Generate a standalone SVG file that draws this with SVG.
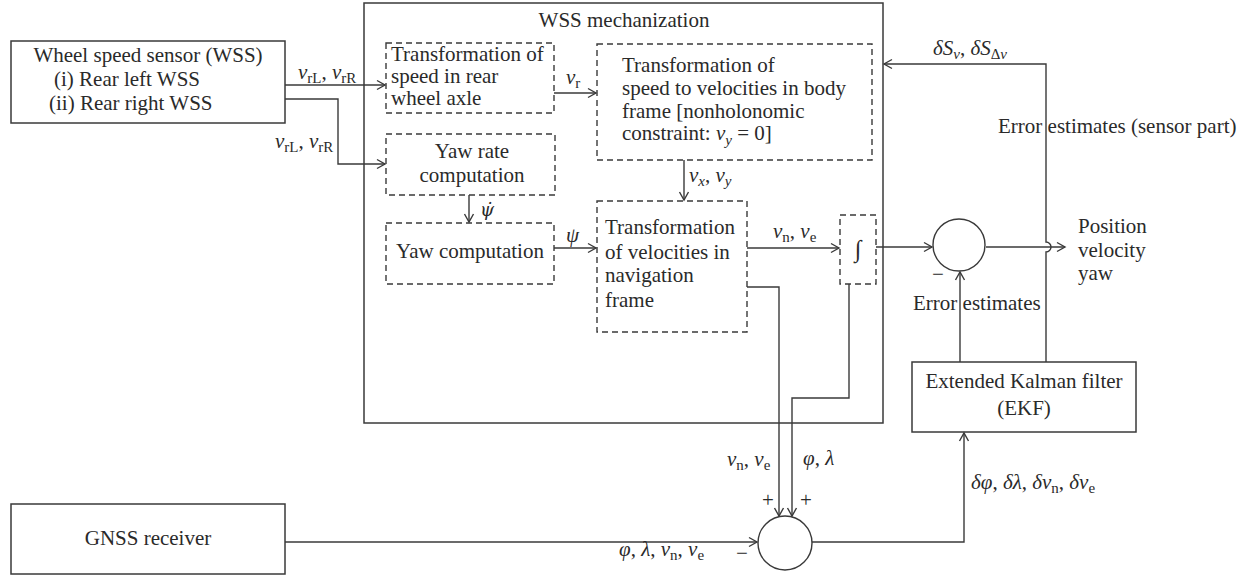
<svg xmlns="http://www.w3.org/2000/svg" width="1255" height="578" viewBox="0 0 1255 578">
<style>
text{font-family:"Liberation Serif","DejaVu Serif",serif;font-size:21px;fill:#2a2a2a}
.m{text-anchor:middle}
.it{font-style:italic}
.sub{font-size:15px}
.box{fill:#fff;stroke:#3a3a3a;stroke-width:1.5}
.dash{fill:none;stroke:#3a3a3a;stroke-width:1.4;stroke-dasharray:6 4}
.c{fill:none;stroke:#3a3a3a;stroke-width:1.4}
.ar{marker-end:url(#arr)}
</style>
<defs>
<marker id="arr" markerUnits="userSpaceOnUse" markerWidth="12" markerHeight="12" refX="10" refY="6" orient="auto">
<path d="M2,1.5 L10,6 L2,10.5" fill="none" stroke="#3a3a3a" stroke-width="1.4"/>
</marker>
</defs>

<g id="mech">
<rect class="box" x="364" y="3" width="519" height="420" fill="none"/>
<text class="m" x="624" y="27">WSS mechanization</text>
</g>

<g id="wss">
<rect class="box" x="11" y="41" width="274" height="82"/>
<text class="m" x="148" y="62">Wheel speed sensor (WSS)</text>
<text x="54" y="86">(i) Rear left WSS</text>
<text x="49" y="110">(ii) Rear right WSS</text>
</g>

<g id="speedAxle">
<rect class="dash" x="386" y="43" width="168" height="70"/>
<text x="391" y="61">Transformation of</text>
<text x="391" y="83">speed in rear</text>
<text x="391" y="105">wheel axle</text>
</g>

<g id="yawRate">
<rect class="dash" x="386" y="134" width="169" height="61"/>
<text class="m" x="472" y="158">Yaw rate</text>
<text class="m" x="472" y="182">computation</text>
</g>

<g id="bodyFrame">
<rect class="dash" x="597" y="44" width="275" height="116"/>
<text x="622" y="72">Transformation of</text>
<text x="622" y="95">speed to velocities in body</text>
<text x="622" y="118">frame [nonholonomic</text>
<text x="622" y="140">constraint: <tspan class="it">ν</tspan><tspan class="sub it" dy="5">y</tspan><tspan dy="-5"> = 0]</tspan></text>
</g>

<g id="yaw">
<rect class="dash" x="386" y="223" width="168" height="61"/>
<text class="m" x="470" y="258">Yaw computation</text>
</g>

<g id="navFrame">
<rect class="dash" x="597" y="201" width="150" height="131"/>
<text x="605" y="234">Transformation</text>
<text x="605" y="259">of velocities in</text>
<text x="605" y="282">navigation</text>
<text x="605" y="307">frame</text>
</g>

<g id="integrator">
<rect class="dash" x="840" y="215" width="36" height="69"/>
<text class="m" x="858" y="257" style="font-size:24px">∫</text>
</g>

<g id="sumTop">
<circle class="c" cx="959" cy="245" r="26"/>
<text class="m" x="938" y="281">−</text>
</g>

<g id="output">
<text x="1078" y="233">Position</text>
<text x="1078" y="257">velocity</text>
<text x="1078" y="280">yaw</text>
</g>

<g id="ekf">
<rect class="box" x="912" y="362" width="224" height="70"/>
<text class="m" x="1024" y="388">Extended Kalman filter</text>
<text class="m" x="1024" y="415">(EKF)</text>
</g>

<g id="gnss">
<rect class="box" x="11" y="504" width="274" height="70"/>
<text class="m" x="148" y="545">GNSS receiver</text>
</g>

<g id="sumBottom">
<circle class="c" cx="785" cy="543" r="27"/>
<text class="m" x="768" y="507">+</text>
<text class="m" x="806" y="507">+</text>
<text class="m" x="742" y="560">−</text>
</g>

<g id="connectors">
<path class="c ar" d="M285,85 H385"/>
<path class="c ar" d="M285,99 H338 V164 H385"/>
<path class="c ar" d="M554,93 H596"/>
<path class="c ar" d="M684,160 V200"/>
<path class="c ar" d="M469,195 V222"/>
<path class="c ar" d="M554,248 H596"/>
<path class="c ar" d="M747,248 H839"/>
<path class="c ar" d="M876,247 H932"/>
<path class="c ar" d="M986,247 H1065"/>
<path class="c ar" d="M1046,362 V252 A5,5 0 0 0 1046,242 V64 H884"/>
<path class="c ar" d="M960,362 V272"/>
<path class="c ar" d="M747,287 H779 V516"/>
<path class="c ar" d="M849,284 V398 H792 V516"/>
<path class="c ar" d="M285,542 H757"/>
<path class="c ar" d="M812,542 H964 V433"/>
</g>

<g id="labels">
<text x="298" y="79"><tspan class="it">ν</tspan><tspan class="sub" dy="4">rL</tspan><tspan dy="-4">, </tspan><tspan class="it">ν</tspan><tspan class="sub" dy="4">rR</tspan></text>
<text x="275" y="148"><tspan class="it">ν</tspan><tspan class="sub" dy="4">rL</tspan><tspan dy="-4">, </tspan><tspan class="it">ν</tspan><tspan class="sub" dy="4">rR</tspan></text>
<text x="566" y="84"><tspan class="it">ν</tspan><tspan class="sub" dy="4">r</tspan></text>
<text x="689" y="182"><tspan class="it">ν</tspan><tspan class="sub it" dy="4">x</tspan><tspan dy="-4">, </tspan><tspan class="it">ν</tspan><tspan class="sub it" dy="4">y</tspan></text>
<text class="it" x="480" y="216" style="font-family:'DejaVu Serif',serif;font-size:18px">ψ̇</text>
<text class="it" x="566" y="242">ψ</text>
<text x="773" y="238"><tspan class="it">ν</tspan><tspan class="sub" dy="4">n</tspan><tspan dy="-4">, </tspan><tspan class="it">ν</tspan><tspan class="sub" dy="4">e</tspan></text>
<text x="933" y="55"><tspan class="it">δS</tspan><tspan class="sub it" dy="4">ν</tspan><tspan dy="-4">, </tspan><tspan class="it">δS</tspan><tspan class="sub" dy="4">Δ</tspan><tspan class="sub it">ν</tspan></text>
<text x="998" y="133">Error estimates (sensor part)</text>
<text x="913" y="310">Error estimates</text>
<text x="727" y="466"><tspan class="it">ν</tspan><tspan class="sub" dy="4">n</tspan><tspan dy="-4">, </tspan><tspan class="it">ν</tspan><tspan class="sub" dy="4">e</tspan></text>
<text x="803" y="465"><tspan class="it">φ</tspan>, <tspan class="it">λ</tspan></text>
<text x="619" y="556"><tspan class="it">φ</tspan>, <tspan class="it">λ</tspan>, <tspan class="it">ν</tspan><tspan class="sub" dy="4">n</tspan><tspan dy="-4">, </tspan><tspan class="it">ν</tspan><tspan class="sub" dy="4">e</tspan></text>
<text x="971" y="489"><tspan class="it">δφ</tspan>, <tspan class="it">δλ</tspan>, <tspan class="it">δν</tspan><tspan class="sub" dy="4">n</tspan><tspan dy="-4">, </tspan><tspan class="it">δν</tspan><tspan class="sub" dy="4">e</tspan></text>
</g>
</svg>
